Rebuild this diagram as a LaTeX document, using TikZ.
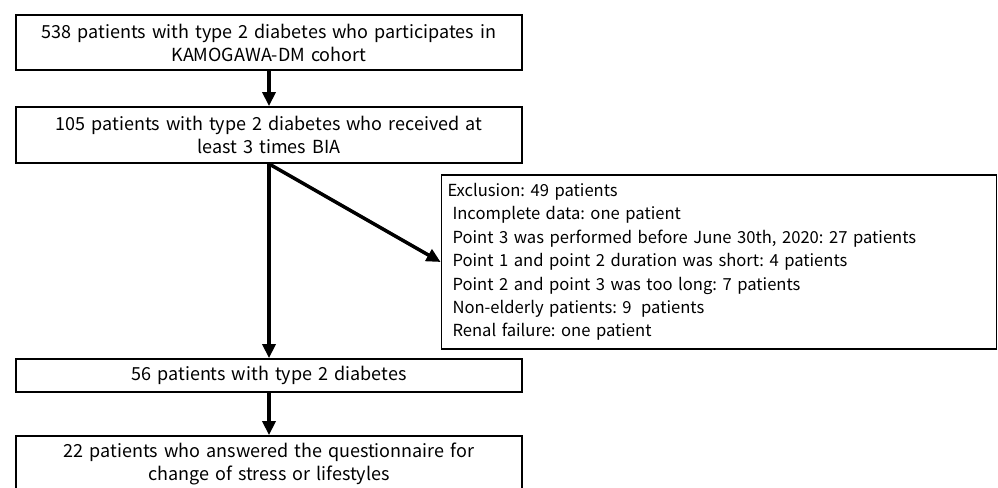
\documentclass[tikz,border=0pt]{standalone}
\usepackage{fontspec}
\setmainfont{Noto Sans CJK JP}
\usetikzlibrary{arrows.meta}
\frenchspacing
\begin{document}
\begin{tikzpicture}[x=1pt,y=-1pt,
  box/.style={draw, line width=1.8pt, minimum width=506pt, inner xsep=3pt, inner ysep=0pt,
    align=center, text width=500pt, font=\fontsize{18}{23}\selectfont},
  exbox/.style={draw, line width=1.8pt, minimum width=555pt, minimum height=174pt,
    inner xsep=6pt, inner ysep=0pt, text width=543pt, align=left,
    font=\fontsize{16.6}{23.4}\selectfont},
  arr/.style={line width=3.5pt, -{Triangle[width=13pt,length=14pt]}}]
\useasboundingbox (0,0) rectangle (998,487);
\node[box, minimum height=55pt] (b1) at (269,42.5)
  {538 patients with type 2 diabetes who participates in\\KAMOGAWA-DM cohort};
\node[box, minimum height=56pt] (b2) at (269,135)
  {105 patients with type 2 diabetes who received at\\least 3 times BIA};
\node[box, minimum height=33pt] (b3) at (269,375.5)
  {56 patients with type 2 diabetes};
\node[box, minimum height=56pt] (b4) at (269,464)
  {22 patients who answered the questionnaire for\\change of stress or lifestyles};
\node[exbox] (ex) at (719,262)
  {Exclusion: 49 patients\\
   \hspace*{5pt}Incomplete data: one patient\\
   \hspace*{5pt}Point 3 was performed before June 30th, 2020: 27 patients\\
   \hspace*{5pt}Point 1 and point 2 duration was short: 4 patients\\
   \hspace*{5pt}Point 2 and point 3 was too long: 7 patients\\
   \hspace*{5pt}Non-elderly patients: 9\hspace*{4pt} patients\\
   \hspace*{5pt}Renal failure: one patient};
\draw[arr] (b1.south) -- (b2.north);
\draw[arr] (b2.south) -- (b3.north);
\draw[arr] (b2.south) -- (ex.west);
\draw[arr] (b3.south) -- (b4.north);
\end{tikzpicture}
\end{document}
